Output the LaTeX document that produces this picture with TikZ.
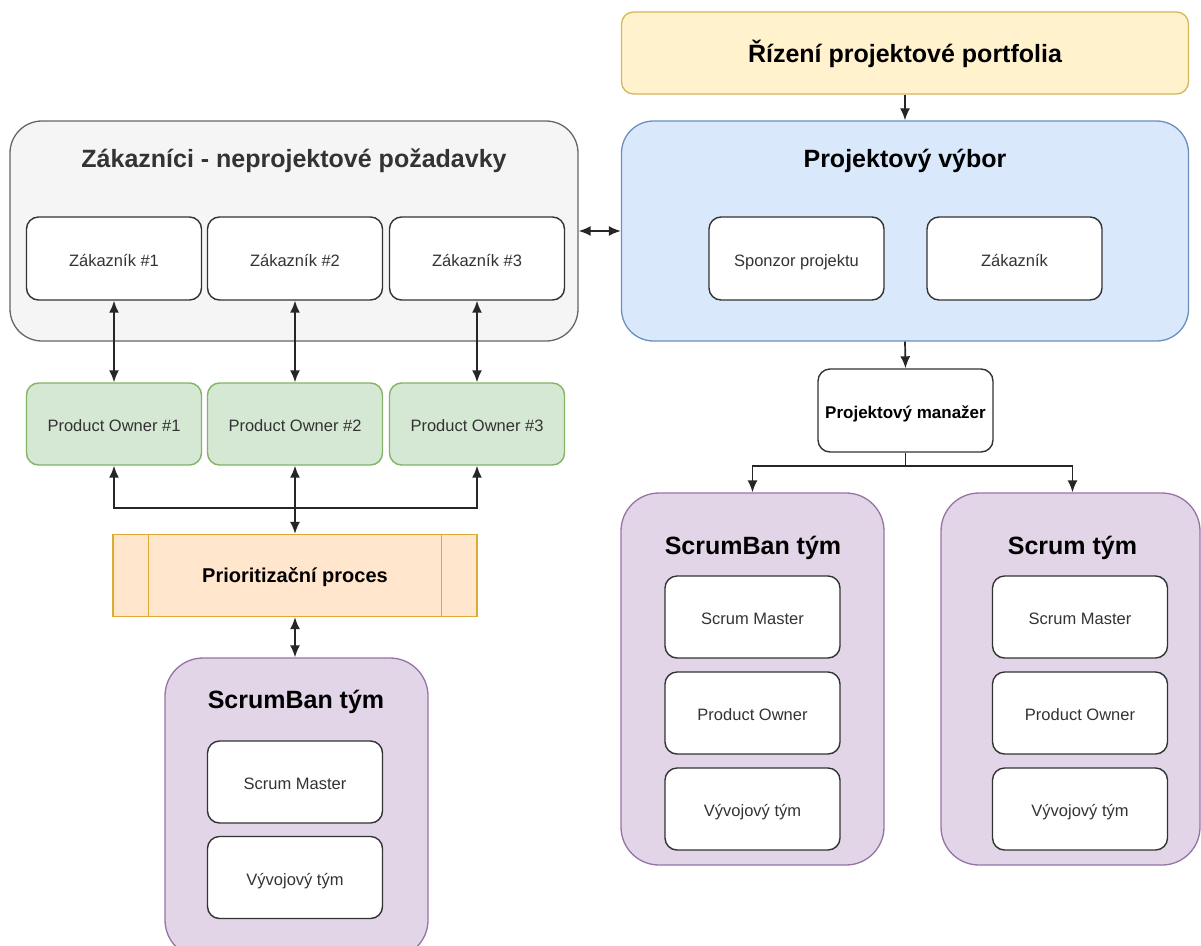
\documentclass[tikz,border=0pt]{standalone}
\usepackage{fontspec}
\setmainfont{Liberation Sans}
\usetikzlibrary{arrows.meta}
\definecolor{grayfill}{HTML}{F5F5F5}
\definecolor{graydraw}{HTML}{666666}
\definecolor{bluefill}{HTML}{DAE8FC}
\definecolor{bluedraw}{HTML}{6C8EBF}
\definecolor{yelfill}{HTML}{FFF2CC}
\definecolor{yeldraw}{HTML}{D6B656}
\definecolor{grnfill}{HTML}{D5E8D4}
\definecolor{grndraw}{HTML}{82B366}
\definecolor{purfill}{HTML}{E1D5E7}
\definecolor{purdraw}{HTML}{9673A6}
\definecolor{orfill}{HTML}{FFE6CC}
\definecolor{ordraw}{HTML}{DDAA33}
\definecolor{txt}{HTML}{333333}
\begin{document}
\begin{tikzpicture}[x=1pt,y=-1pt,
  grp/.style={rounded corners=#1, line width=1.3pt, inner sep=0pt},
  grp/.default=32pt,
  wbox/.style={draw=txt, fill=white, rounded corners=12pt, line width=1.4pt,
    minimum width=175pt, minimum height=83pt, inner sep=0pt,
    text height=15pt, text depth=0pt,
    font=\fontsize{16.5}{19}\selectfont, text=txt},
  gbox/.style={wbox, draw=grndraw, fill=grnfill},
  title/.style={font=\fontsize{25}{28}\bfseries\selectfont, inner sep=0pt,
    text height=18pt, text depth=5pt},
  con/.style={line width=1.7pt, draw=black!85},
  arr/.style={con, -{Latex[length=12pt,width=10pt]}},
  darr/.style={con, {Latex[length=12pt,width=10pt]}-{Latex[length=12pt,width=10pt]}}
]
\useasboundingbox (0,0) rectangle (1201,945);
\clip (0,0) rectangle (1201,945);

% --- top yellow
\node[grp=12pt, draw=yeldraw, fill=yelfill, minimum width=567pt, minimum height=82pt] (portf) at (905,53) {};
\node[title] (portft) at (905,55.5) {Řízení projektové portfolia};

% --- gray group
\node[grp, draw=graydraw, fill=grayfill, minimum width=568pt, minimum height=220pt] (zak) at (294,231) {};
\node[title, text=txt] (zakt) at (294,161) {Zákazníci - neprojektové požadavky};
\node[wbox] (z1) at (114,258.5) {Zákazník \#1};
\node[wbox] (z2) at (295,258.5) {Zákazník \#2};
\node[wbox] (z3) at (477,258.5) {Zákazník \#3};

% --- blue group
\node[grp, draw=bluedraw, fill=bluefill, minimum width=567pt, minimum height=220pt] (vybor) at (905,231) {};
\node[title] (vybort) at (905,161) {Projektový výbor};
\node[wbox] (spons) at (796.5,258.5) {Sponzor projektu};
\node[wbox] (zakaz) at (1014.5,258.5) {Zákazník};

% --- product owners
\node[gbox, minimum height=82pt] (po1) at (114,424) {Product Owner \#1};
\node[gbox, minimum height=82pt] (po2) at (295,424) {Product Owner \#2};
\node[gbox, minimum height=82pt] (po3) at (477,424) {Product Owner \#3};

% --- process
\node[draw=ordraw, fill=orfill, line width=1.3pt, minimum width=364pt, minimum height=82pt, inner sep=0pt] (proc) at (295,575.5) {};
\draw[ordraw, line width=1.3pt] ([xshift=36pt]proc.north west) -- ([xshift=36pt]proc.south west);
\draw[ordraw, line width=1.3pt] ([xshift=-36pt]proc.north east) -- ([xshift=-36pt]proc.south east);
\node[font=\fontsize{20}{24}\bfseries\selectfont, inner sep=0pt, text height=14.5pt, text depth=4pt] (proct) at (295,577) {Prioritizační proces};

% --- bottom-left scrumban team
\node[grp=38pt, draw=purdraw, fill=purfill, minimum width=263pt, minimum height=300pt] (sbl) at (296.5,808) {};
\node[title] (sblt) at (296,702) {ScrumBan tým};
\node[wbox, minimum height=82pt] (sblm) at (295,782) {Scrum Master};
\node[wbox, minimum height=82pt] (sblv) at (295,877.5) {Vývojový tým};

% --- project manager
\node[wbox, font=\fontsize{17}{20}\bfseries\selectfont, text=black] (pm) at (905.5,410.5) {Projektový manažer};

% --- right scrumban team
\node[grp=38pt, draw=purdraw, fill=purfill, minimum width=263pt, minimum height=372pt] (sbr) at (752.5,679) {};
\node[title] (sbrt) at (753,548) {ScrumBan tým};
\node[wbox, minimum height=82pt] (sbrm) at (752.5,617) {Scrum Master};
\node[wbox, minimum height=82pt] (sbrp) at (752.5,713) {Product Owner};
\node[wbox, minimum height=82pt] (sbrv) at (752.5,809) {Vývojový tým};

% --- right scrum team
\node[grp=38pt, draw=purdraw, fill=purfill, minimum width=259pt, minimum height=372pt] (scr) at (1070.5,679) {};
\node[title] (scrt) at (1072.5,548) {Scrum tým};
\node[wbox, minimum height=82pt] (scrm) at (1080,617) {Scrum Master};
\node[wbox, minimum height=82pt] (scrp) at (1080,713) {Product Owner};
\node[wbox, minimum height=82pt] (scrv) at (1080,809) {Vývojový tým};

% --- connectors
\draw[arr] (portf.south) -- (vybor.north);
\draw[darr] (zak.east) -- (vybor.west);
\draw[darr] (z1.south) -- (po1.north);
\draw[darr] (z2.south) -- (po2.north);
\draw[darr] (z3.south) -- (po3.north);
\draw[darr] (po1.south) -- ++(0,42) -| (po3.south);
\draw[darr] (po2.south) -- (proc.north);
\draw[darr] (proc.south) -- (proc.south |- sbl.north);
\draw[arr] (vybor.south) -- (pm.north);
\coordinate (fork) at ([yshift=-13pt]pm.south);
\draw[con] (pm.south) -- (fork);
\draw[arr] (fork) -| (sbr.north);
\draw[arr] (fork) -| ([xshift=2pt]scr.north);
\end{tikzpicture}
\end{document}
